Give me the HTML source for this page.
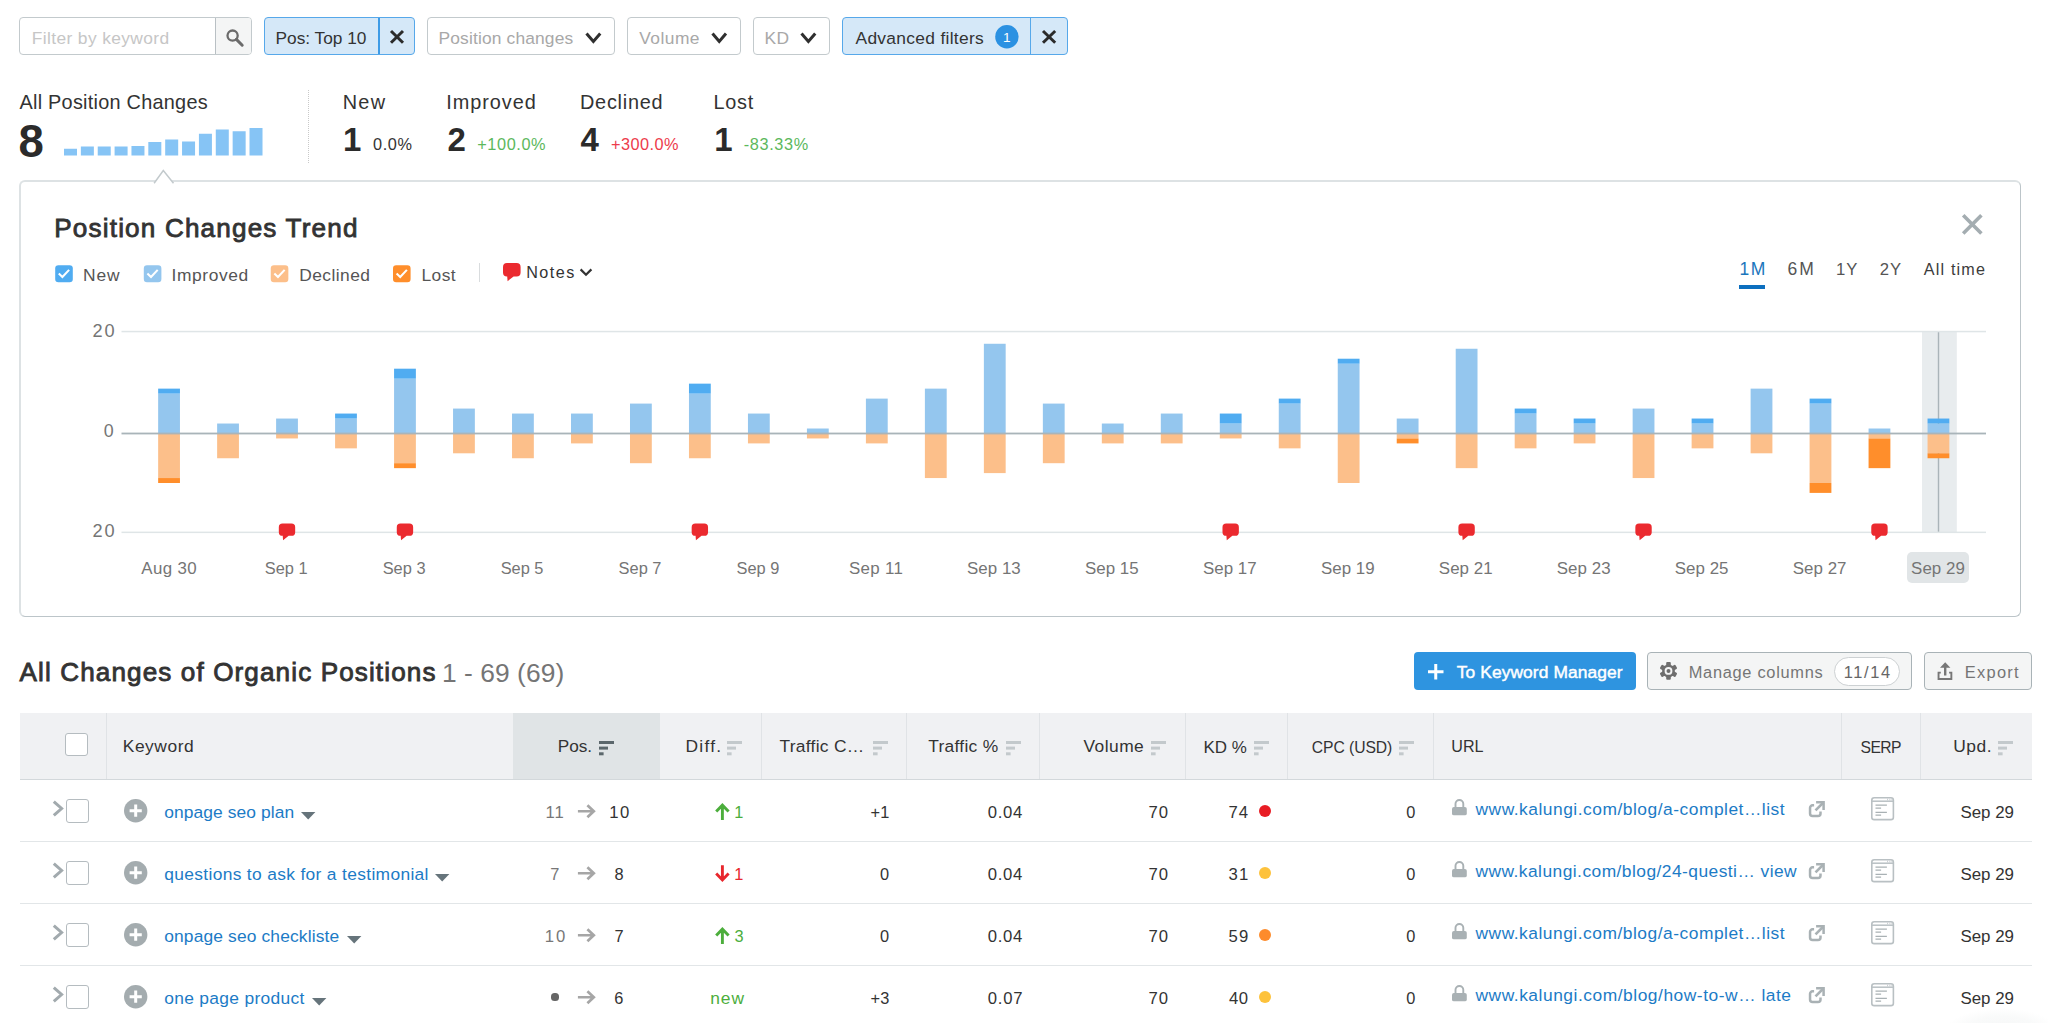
<!DOCTYPE html>
<html lang="en"><head><meta charset="utf-8"><title>Position Changes</title><style>
html,body{margin:0;padding:0;background:#fff;}
body{width:2048px;height:1023px;overflow:hidden;position:relative;font-family:"Liberation Sans",sans-serif;}
#page{position:absolute;left:0;top:0;width:2048px;height:1023px;overflow:hidden;background:#fff;}
#page div,#page svg,#page .t{position:absolute;box-sizing:border-box;}
#page svg{overflow:visible;display:block;}
.t{display:block;height:0;line-height:0;white-space:pre;font-family:"Liberation Sans",sans-serif;}
</style></head>
<body><div id="page">
<div style="left:19px;top:17px;width:233px;height:38px;border:1px solid #c3cacd;border-radius:4px;background:#fff;"></div>
<div style="left:215px;top:18px;width:36px;height:36px;background:#f4f5f5;border-left:1px solid #b9c0c4;border-radius:0 3px 3px 0;"></div>
<span class="t" style="left:31.75px;top:38px;font-size:17.4px;color:#c6c6c6;letter-spacing:0.375px;">Filter by keyword</span>
<svg style="left:224.8px;top:28px;" width="20" height="20" viewBox="0 0 20 20"><circle cx="7.6" cy="7.6" r="5.1" fill="none" stroke="#6b6b6b" stroke-width="2.3"/><path d="M11.4 11.4 L17.2 17.2" stroke="#6b6b6b" stroke-width="3" stroke-linecap="round"/></svg>
<div style="left:264px;top:17px;width:151px;height:38px;border:1px solid #56a8ea;border-radius:4px;background:#d5e8f8;"></div>
<div style="left:378px;top:18px;width:1.5px;height:36px;background:#3d9be6;"></div>
<span class="t" style="left:275.50px;top:38px;font-size:17.3px;color:#333;">Pos: Top 10</span>
<svg style="left:390px;top:30.2px;" width="14" height="13.8" viewBox="0 0 14 13.8"><path d="M1 1 L13 12.8 M13 1 L1 12.8" fill="none" stroke="#2b2b2b" stroke-width="3" stroke-linecap="butt"/></svg>
<div style="left:427px;top:17px;width:188px;height:38px;border:1px solid #c3cacd;border-radius:4px;background:#fff;"></div>
<span class="t" style="left:438.50px;top:38px;font-size:17.4px;color:#a8a8a8;letter-spacing:0.150px;">Position changes</span>
<svg style="left:585px;top:32px;" width="16.75" height="11" viewBox="0 0 16.75 11"><path d="M1.5 1.5 L8.375 9.5 L15.25 1.5" fill="none" stroke="#2f2f2f" stroke-width="3" stroke-linecap="butt" stroke-linejoin="miter"/></svg>
<div style="left:627px;top:17px;width:114px;height:38px;border:1px solid #c3cacd;border-radius:4px;background:#fff;"></div>
<span class="t" style="left:639.25px;top:38px;font-size:17.4px;color:#a8a8a8;letter-spacing:0.450px;">Volume</span>
<svg style="left:711px;top:32px;" width="16.5" height="11" viewBox="0 0 16.5 11"><path d="M1.5 1.5 L8.25 9.5 L15 1.5" fill="none" stroke="#2f2f2f" stroke-width="3" stroke-linecap="butt" stroke-linejoin="miter"/></svg>
<div style="left:753px;top:17px;width:77px;height:38px;border:1px solid #c3cacd;border-radius:4px;background:#fff;"></div>
<span class="t" style="left:764.50px;top:38px;font-size:17.4px;color:#a8a8a8;letter-spacing:0.500px;">KD</span>
<svg style="left:800px;top:32px;" width="16.75" height="11" viewBox="0 0 16.75 11"><path d="M1.5 1.5 L8.375 9.5 L15.25 1.5" fill="none" stroke="#2f2f2f" stroke-width="3" stroke-linecap="butt" stroke-linejoin="miter"/></svg>
<div style="left:842px;top:17px;width:226px;height:38px;border:1px solid #56a8ea;border-radius:4px;background:#d5e8f8;"></div>
<div style="left:1030px;top:18px;width:1.3px;height:36px;background:#56a8ea;"></div>
<span class="t" style="left:855.50px;top:38px;font-size:17.4px;color:#333;letter-spacing:0.300px;">Advanced filters</span>
<svg style="left:995px;top:25px;" width="24" height="24" viewBox="0 0 24 24"><circle cx="11.9" cy="11.8" r="11.7" fill="#2b91e2"/></svg>
<span class="t" style="left:1002.90px;top:38px;font-size:13.65px;color:#fff;">1</span>
<svg style="left:1042px;top:30.2px;" width="14.2" height="13.8" viewBox="0 0 14.2 13.8"><path d="M1 1 L13.2 12.8 M13.2 1 L1 12.8" fill="none" stroke="#2b2b2b" stroke-width="3" stroke-linecap="butt"/></svg>
<span class="t" style="left:19.50px;top:102px;font-size:19.89px;color:#333;letter-spacing:0.250px;">All Position Changes</span>
<span class="t" style="left:18.50px;top:142px;font-size:45.5px;color:#2b2b2b;font-weight:700;">8</span>
<svg style="left:64.25px;top:127px;" width="199" height="29" viewBox="0 0 199 29"><g fill="#86c4f5"><rect x="0.00" y="21.75" width="13" height="6.75"/><rect x="16.86" y="19.50" width="13" height="9.00"/><rect x="33.73" y="19.50" width="13" height="9.00"/><rect x="50.59" y="19.50" width="13" height="9.00"/><rect x="67.46" y="19.00" width="13" height="9.50"/><rect x="84.32" y="15.00" width="13" height="13.50"/><rect x="101.19" y="12.50" width="13" height="16.00"/><rect x="118.05" y="14.50" width="13" height="14.00"/><rect x="134.92" y="6.75" width="13" height="21.75"/><rect x="151.78" y="2.50" width="13" height="26.00"/><rect x="168.65" y="4.25" width="13" height="24.25"/><rect x="185.51" y="1.00" width="13" height="27.50"/></g></svg>
<div style="left:307.5px;top:90px;width:1px;height:73px;border-left:1px dotted #c9c9c9;"></div>
<span class="t" style="left:342.75px;top:102px;font-size:19.89px;color:#333;letter-spacing:1.250px;">New</span>
<span class="t" style="left:343.00px;top:140px;font-size:33px;color:#2b2b2b;font-weight:700;">1</span>
<span class="t" style="left:373.00px;top:144px;font-size:16.31px;color:#333;letter-spacing:0.583px;">0.0%</span>
<span class="t" style="left:446.25px;top:102px;font-size:19.89px;color:#333;letter-spacing:0.964px;">Improved</span>
<span class="t" style="left:447.50px;top:140px;font-size:33px;color:#2b2b2b;font-weight:700;">2</span>
<span class="t" style="left:477.25px;top:144px;font-size:16.31px;color:#5cb85c;letter-spacing:0.583px;">+100.0%</span>
<span class="t" style="left:580.00px;top:102px;font-size:19.89px;color:#333;letter-spacing:0.750px;">Declined</span>
<span class="t" style="left:580.50px;top:140px;font-size:33px;color:#2b2b2b;font-weight:700;">4</span>
<span class="t" style="left:611.00px;top:144px;font-size:16.31px;color:#ed3b4b;letter-spacing:0.458px;">+300.0%</span>
<span class="t" style="left:713.50px;top:102px;font-size:19.89px;color:#333;letter-spacing:0.750px;">Lost</span>
<span class="t" style="left:714.25px;top:140px;font-size:33px;color:#2b2b2b;font-weight:700;">1</span>
<span class="t" style="left:743.75px;top:144px;font-size:16.31px;color:#5cb85c;letter-spacing:0.625px;">-83.33%</span>
<div style="left:19px;top:180px;width:2002px;height:437px;border:2px solid #dde2e4;border-right:1px solid #bcc5c9;border-bottom:1px solid #bcc5c9;border-radius:6px;background:#fff;"></div>
<svg style="left:152px;top:168px;" width="24" height="16" viewBox="0 0 24 16"><path d="M2.3 15 L11.3 2.6 L21.3 15 Z" fill="#fff"/><path d="M2.1 15.3 L11.3 2.6 L21.5 15.3" fill="none" stroke="#c3cacd" stroke-width="1.5"/></svg>
<span class="t" style="left:54.25px;top:228px;font-size:26.11px;color:#333;letter-spacing:1.167px;-webkit-text-stroke:0.85px #333;">Position Changes Trend</span>
<svg style="left:1961px;top:213px;" width="22" height="22" viewBox="0 0 22 22"><path d="M2.2 2.2 L20.4 20.4 M20.4 2.2 L2.2 20.4" stroke="#a4adb1" stroke-width="3.6" fill="none"/></svg>
<svg style="left:55px;top:265px;" width="19" height="19" viewBox="0 0 19 19"><g transform="translate(0.20 0.30)"><rect x="0" y="0" width="17.6" height="17" rx="3.2" fill="#50acf1"/><path d="M3.6 8.3 L7.2 11.7 L13.9 4.6" fill="none" stroke="#fff" stroke-width="2.1"/></g></svg>
<span class="t" style="left:83.00px;top:275px;font-size:17.4px;color:#555;letter-spacing:0.875px;">New</span>
<svg style="left:143px;top:265px;" width="19" height="19" viewBox="0 0 19 19"><g transform="translate(0.80 0.30)"><rect x="0" y="0" width="17.6" height="17" rx="3.2" fill="#94c6ee"/><path d="M3.6 8.3 L7.2 11.7 L13.9 4.6" fill="none" stroke="#fff" stroke-width="2.1"/></g></svg>
<span class="t" style="left:171.50px;top:275px;font-size:17.4px;color:#555;letter-spacing:0.607px;">Improved</span>
<svg style="left:270px;top:265px;" width="19" height="19" viewBox="0 0 19 19"><g transform="translate(0.75 0.30)"><rect x="0" y="0" width="17.6" height="17" rx="3.2" fill="#fcbf8a"/><path d="M3.6 8.3 L7.2 11.7 L13.9 4.6" fill="none" stroke="#fff" stroke-width="2.1"/></g></svg>
<span class="t" style="left:299.25px;top:275px;font-size:17.4px;color:#555;letter-spacing:0.429px;">Declined</span>
<svg style="left:393px;top:265px;" width="19" height="19" viewBox="0 0 19 19"><g transform="translate(0.00 0.30)"><rect x="0" y="0" width="17.6" height="17" rx="3.2" fill="#ff8e2b"/><path d="M3.6 8.3 L7.2 11.7 L13.9 4.6" fill="none" stroke="#fff" stroke-width="2.1"/></g></svg>
<span class="t" style="left:421.50px;top:275px;font-size:17.4px;color:#555;letter-spacing:0.417px;">Lost</span>
<div style="left:479px;top:263px;width:1px;height:18.5px;background:#d9dcde;"></div>
<svg style="left:503.4px;top:262.9px;" width="17.6" height="17.4" viewBox="0 0 17.6 17.4"><path d="M4 0 H13.6 A4 4 0 0 1 17.6 4 V9.4 A4 4 0 0 1 13.6 13.4 H10.6 L4.6 18.2 L4.2 13.4 H4 A4 4 0 0 1 0 9.4 V4 A4 4 0 0 1 4 0 Z" fill="#eb2a2f"/></svg>
<span class="t" style="left:526.25px;top:272px;font-size:16.16px;color:#333;letter-spacing:1.438px;">Notes</span>
<svg style="left:579px;top:268px;" width="14" height="10" viewBox="0 0 14 10"><path d="M1.6 1.4 L7 6.8 L12.4 1.4" fill="none" stroke="#333" stroke-width="2.2"/></svg>
<span class="t" style="left:1739.55px;top:269px;font-size:17.5px;color:#1a76bc;letter-spacing:1.450px;">1M</span>
<div style="left:1739.4px;top:285.2px;width:25.4px;height:3.5px;background:#0d6fbf;"></div>
<span class="t" style="left:1787.50px;top:269px;font-size:17.5px;color:#555;letter-spacing:2.100px;">6M</span>
<span class="t" style="left:1835.95px;top:270px;font-size:16.71px;color:#555;letter-spacing:1.050px;">1Y</span>
<span class="t" style="left:1879.75px;top:270px;font-size:16.71px;color:#555;letter-spacing:0.950px;">2Y</span>
<span class="t" style="left:1923.70px;top:269px;font-size:16.16px;color:#3c3c3c;letter-spacing:1.193px;">All time</span>
<svg style="left:80px;top:320px;" width="1920" height="230" viewBox="80 320 1920 230"><rect x="1922" y="331.8" width="34.8" height="200.4" fill="#e8ecee"/><rect x="1937.8" y="331.8" width="1.4" height="200.4" fill="#aab4b9"/><rect x="121.5" y="330.8" width="1864.5" height="1.5" fill="#dfe5e7"/><rect x="121.5" y="531.6" width="1864.5" height="1.5" fill="#dfe5e7"/><rect x="158.15" y="393.62" width="21.8" height="39.88" fill="#94c6ee"/><rect x="158.15" y="388.63" width="21.8" height="4.99" fill="#50acf1"/><rect x="158.15" y="433.50" width="21.8" height="44.55" fill="#fcbf8a"/><rect x="158.15" y="478.05" width="21.8" height="4.95" fill="#ff8e2b"/><rect x="217.13" y="423.53" width="21.8" height="9.97" fill="#94c6ee"/><rect x="217.13" y="433.50" width="21.8" height="24.75" fill="#fcbf8a"/><rect x="276.11" y="418.55" width="21.8" height="14.96" fill="#94c6ee"/><rect x="276.11" y="433.50" width="21.8" height="4.95" fill="#fcbf8a"/><rect x="335.09" y="418.55" width="21.8" height="14.96" fill="#94c6ee"/><rect x="335.09" y="413.56" width="21.8" height="4.99" fill="#50acf1"/><rect x="335.09" y="433.50" width="21.8" height="14.85" fill="#fcbf8a"/><rect x="394.07" y="378.67" width="21.8" height="54.84" fill="#94c6ee"/><rect x="394.07" y="368.69" width="21.8" height="9.97" fill="#50acf1"/><rect x="394.07" y="433.50" width="21.8" height="29.70" fill="#fcbf8a"/><rect x="394.07" y="463.20" width="21.8" height="4.95" fill="#ff8e2b"/><rect x="453.05" y="408.57" width="21.8" height="24.93" fill="#94c6ee"/><rect x="453.05" y="433.50" width="21.8" height="19.80" fill="#fcbf8a"/><rect x="512.03" y="413.56" width="21.8" height="19.94" fill="#94c6ee"/><rect x="512.03" y="433.50" width="21.8" height="24.75" fill="#fcbf8a"/><rect x="571.01" y="413.56" width="21.8" height="19.94" fill="#94c6ee"/><rect x="571.01" y="433.50" width="21.8" height="9.90" fill="#fcbf8a"/><rect x="629.99" y="403.59" width="21.8" height="29.91" fill="#94c6ee"/><rect x="629.99" y="433.50" width="21.8" height="29.70" fill="#fcbf8a"/><rect x="688.97" y="393.62" width="21.8" height="39.88" fill="#94c6ee"/><rect x="688.97" y="383.65" width="21.8" height="9.97" fill="#50acf1"/><rect x="688.97" y="433.50" width="21.8" height="24.75" fill="#fcbf8a"/><rect x="747.95" y="413.56" width="21.8" height="19.94" fill="#94c6ee"/><rect x="747.95" y="433.50" width="21.8" height="9.90" fill="#fcbf8a"/><rect x="806.93" y="428.51" width="21.8" height="4.99" fill="#94c6ee"/><rect x="806.93" y="433.50" width="21.8" height="4.95" fill="#fcbf8a"/><rect x="865.91" y="398.61" width="21.8" height="34.90" fill="#94c6ee"/><rect x="865.91" y="433.50" width="21.8" height="9.90" fill="#fcbf8a"/><rect x="924.89" y="388.63" width="21.8" height="44.87" fill="#94c6ee"/><rect x="924.89" y="433.50" width="21.8" height="44.55" fill="#fcbf8a"/><rect x="983.87" y="343.77" width="21.8" height="89.73" fill="#94c6ee"/><rect x="983.87" y="433.50" width="21.8" height="39.60" fill="#fcbf8a"/><rect x="1042.85" y="403.59" width="21.8" height="29.91" fill="#94c6ee"/><rect x="1042.85" y="433.50" width="21.8" height="29.70" fill="#fcbf8a"/><rect x="1101.83" y="423.53" width="21.8" height="9.97" fill="#94c6ee"/><rect x="1101.83" y="433.50" width="21.8" height="9.90" fill="#fcbf8a"/><rect x="1160.81" y="413.56" width="21.8" height="19.94" fill="#94c6ee"/><rect x="1160.81" y="433.50" width="21.8" height="9.90" fill="#fcbf8a"/><rect x="1219.79" y="423.53" width="21.8" height="9.97" fill="#94c6ee"/><rect x="1219.79" y="413.56" width="21.8" height="9.97" fill="#50acf1"/><rect x="1219.79" y="433.50" width="21.8" height="4.95" fill="#fcbf8a"/><rect x="1278.77" y="403.59" width="21.8" height="29.91" fill="#94c6ee"/><rect x="1278.77" y="398.60" width="21.8" height="4.99" fill="#50acf1"/><rect x="1278.77" y="433.50" width="21.8" height="14.85" fill="#fcbf8a"/><rect x="1337.75" y="363.71" width="21.8" height="69.79" fill="#94c6ee"/><rect x="1337.75" y="358.72" width="21.8" height="4.99" fill="#50acf1"/><rect x="1337.75" y="433.50" width="21.8" height="49.50" fill="#fcbf8a"/><rect x="1396.73" y="418.55" width="21.8" height="14.96" fill="#94c6ee"/><rect x="1396.73" y="433.50" width="21.8" height="4.95" fill="#fcbf8a"/><rect x="1396.73" y="438.45" width="21.8" height="4.95" fill="#ff8e2b"/><rect x="1455.71" y="348.75" width="21.8" height="84.75" fill="#94c6ee"/><rect x="1455.71" y="433.50" width="21.8" height="34.65" fill="#fcbf8a"/><rect x="1514.69" y="413.56" width="21.8" height="19.94" fill="#94c6ee"/><rect x="1514.69" y="408.57" width="21.8" height="4.99" fill="#50acf1"/><rect x="1514.69" y="433.50" width="21.8" height="14.85" fill="#fcbf8a"/><rect x="1573.67" y="423.53" width="21.8" height="9.97" fill="#94c6ee"/><rect x="1573.67" y="418.54" width="21.8" height="4.99" fill="#50acf1"/><rect x="1573.67" y="433.50" width="21.8" height="9.90" fill="#fcbf8a"/><rect x="1632.65" y="408.57" width="21.8" height="24.93" fill="#94c6ee"/><rect x="1632.65" y="433.50" width="21.8" height="44.55" fill="#fcbf8a"/><rect x="1691.63" y="423.53" width="21.8" height="9.97" fill="#94c6ee"/><rect x="1691.63" y="418.54" width="21.8" height="4.99" fill="#50acf1"/><rect x="1691.63" y="433.50" width="21.8" height="14.85" fill="#fcbf8a"/><rect x="1750.61" y="388.63" width="21.8" height="44.87" fill="#94c6ee"/><rect x="1750.61" y="433.50" width="21.8" height="19.80" fill="#fcbf8a"/><rect x="1809.59" y="403.59" width="21.8" height="29.91" fill="#94c6ee"/><rect x="1809.59" y="398.60" width="21.8" height="4.99" fill="#50acf1"/><rect x="1809.59" y="433.50" width="21.8" height="49.50" fill="#fcbf8a"/><rect x="1809.59" y="483.00" width="21.8" height="9.90" fill="#ff8e2b"/><rect x="1868.57" y="428.51" width="21.8" height="4.99" fill="#94c6ee"/><rect x="1868.57" y="433.50" width="21.8" height="4.95" fill="#fcbf8a"/><rect x="1868.57" y="438.45" width="21.8" height="29.70" fill="#ff8e2b"/><rect x="1927.55" y="423.53" width="21.8" height="9.97" fill="#94c6ee"/><rect x="1927.55" y="418.54" width="21.8" height="4.99" fill="#50acf1"/><rect x="1927.55" y="433.50" width="21.8" height="19.80" fill="#fcbf8a"/><rect x="1927.55" y="453.30" width="21.8" height="4.95" fill="#ff8e2b"/><rect x="121.5" y="432.6" width="1864.5" height="1.8" fill="#a9b4b9"/><g transform="translate(278.81 523.6) scale(0.93 0.915)"><path d="M4 0 H13.6 A4 4 0 0 1 17.6 4 V9.4 A4 4 0 0 1 13.6 13.4 H10.6 L4.6 18.2 L4.2 13.4 H4 A4 4 0 0 1 0 9.4 V4 A4 4 0 0 1 4 0 Z" fill="#eb2a2f"/></g><g transform="translate(396.77 523.6) scale(0.93 0.915)"><path d="M4 0 H13.6 A4 4 0 0 1 17.6 4 V9.4 A4 4 0 0 1 13.6 13.4 H10.6 L4.6 18.2 L4.2 13.4 H4 A4 4 0 0 1 0 9.4 V4 A4 4 0 0 1 4 0 Z" fill="#eb2a2f"/></g><g transform="translate(691.67 523.6) scale(0.93 0.915)"><path d="M4 0 H13.6 A4 4 0 0 1 17.6 4 V9.4 A4 4 0 0 1 13.6 13.4 H10.6 L4.6 18.2 L4.2 13.4 H4 A4 4 0 0 1 0 9.4 V4 A4 4 0 0 1 4 0 Z" fill="#eb2a2f"/></g><g transform="translate(1222.49 523.6) scale(0.93 0.915)"><path d="M4 0 H13.6 A4 4 0 0 1 17.6 4 V9.4 A4 4 0 0 1 13.6 13.4 H10.6 L4.6 18.2 L4.2 13.4 H4 A4 4 0 0 1 0 9.4 V4 A4 4 0 0 1 4 0 Z" fill="#eb2a2f"/></g><g transform="translate(1458.41 523.6) scale(0.93 0.915)"><path d="M4 0 H13.6 A4 4 0 0 1 17.6 4 V9.4 A4 4 0 0 1 13.6 13.4 H10.6 L4.6 18.2 L4.2 13.4 H4 A4 4 0 0 1 0 9.4 V4 A4 4 0 0 1 4 0 Z" fill="#eb2a2f"/></g><g transform="translate(1635.35 523.6) scale(0.93 0.915)"><path d="M4 0 H13.6 A4 4 0 0 1 17.6 4 V9.4 A4 4 0 0 1 13.6 13.4 H10.6 L4.6 18.2 L4.2 13.4 H4 A4 4 0 0 1 0 9.4 V4 A4 4 0 0 1 4 0 Z" fill="#eb2a2f"/></g><g transform="translate(1871.27 523.6) scale(0.93 0.915)"><path d="M4 0 H13.6 A4 4 0 0 1 17.6 4 V9.4 A4 4 0 0 1 13.6 13.4 H10.6 L4.6 18.2 L4.2 13.4 H4 A4 4 0 0 1 0 9.4 V4 A4 4 0 0 1 4 0 Z" fill="#eb2a2f"/></g></svg>
<span class="t" style="left:92.50px;top:331px;font-size:18.2px;color:#757575;letter-spacing:2.000px;">20</span>
<span class="t" style="left:103.65px;top:431px;font-size:17.84px;color:#757575;">0</span>
<span class="t" style="left:92.50px;top:531px;font-size:18.2px;color:#757575;letter-spacing:2.000px;">20</span>
<div style="left:1907px;top:552px;width:62px;height:31px;background:#e1e5e7;border-radius:5px;"></div>
<span class="t" style="left:141.30px;top:569px;font-size:16.9px;color:#757575;letter-spacing:0.350px;">Aug 30</span>
<span class="t" style="left:264.71px;top:568px;font-size:16.39px;color:#757575;letter-spacing:0.012px;">Sep 1</span>
<span class="t" style="left:382.67px;top:568px;font-size:16.39px;color:#757575;letter-spacing:0.012px;">Sep 3</span>
<span class="t" style="left:500.63px;top:568px;font-size:16.39px;color:#757575;letter-spacing:0.012px;">Sep 5</span>
<span class="t" style="left:618.59px;top:568px;font-size:16.39px;color:#757575;letter-spacing:0.012px;">Sep 7</span>
<span class="t" style="left:736.55px;top:568px;font-size:16.39px;color:#757575;letter-spacing:0.012px;">Sep 9</span>
<span class="t" style="left:849.06px;top:569px;font-size:16.9px;color:#757575;letter-spacing:0.290px;">Sep 11</span>
<span class="t" style="left:967.02px;top:569px;font-size:16.9px;color:#757575;letter-spacing:0.040px;">Sep 13</span>
<span class="t" style="left:1084.98px;top:569px;font-size:16.9px;color:#757575;letter-spacing:0.040px;">Sep 15</span>
<span class="t" style="left:1202.94px;top:569px;font-size:16.9px;color:#757575;letter-spacing:0.040px;">Sep 17</span>
<span class="t" style="left:1320.90px;top:569px;font-size:16.9px;color:#757575;letter-spacing:0.040px;">Sep 19</span>
<span class="t" style="left:1438.86px;top:569px;font-size:16.9px;color:#757575;letter-spacing:0.040px;">Sep 21</span>
<span class="t" style="left:1556.82px;top:569px;font-size:16.9px;color:#757575;letter-spacing:0.040px;">Sep 23</span>
<span class="t" style="left:1674.78px;top:569px;font-size:16.9px;color:#757575;letter-spacing:0.040px;">Sep 25</span>
<span class="t" style="left:1792.74px;top:569px;font-size:16.9px;color:#757575;letter-spacing:0.040px;">Sep 27</span>
<span class="t" style="left:1911.10px;top:569px;font-size:16.9px;color:#757575;letter-spacing:0.040px;">Sep 29</span>
<span class="t" style="left:19.50px;top:672px;font-size:26.11px;color:#333;letter-spacing:1.105px;-webkit-text-stroke:0.85px #333;">All Changes of Organic Positions</span>
<span class="t" style="left:441.90px;top:673px;font-size:26.36px;color:#757575;letter-spacing:0.070px;">1 - 69 (69)</span>
<div style="left:1414px;top:652px;width:222px;height:38px;background:#2e94e0;border-radius:4px;"></div>
<svg style="left:1428px;top:664px;" width="15.5" height="15.5" viewBox="0 0 15.5 15.5"><path d="M7.75 0 V15.5 M0 7.75 H15.5" stroke="#fff" stroke-width="3" fill="none"/></svg>
<span class="t" style="left:1456.75px;top:672px;font-size:17.4px;color:#fff;letter-spacing:0.088px;-webkit-text-stroke:0.45px #fff;">To Keyword Manager</span>
<div style="left:1647px;top:652px;width:265px;height:38px;background:#f4f5f5;border:1px solid #a9b3b7;border-radius:4px;"></div>
<svg style="left:1660.3px;top:662.2px;" width="17" height="17.8" viewBox="0 0 17 17.8"><g transform="translate(8.5 8.9)" fill="#6e6e6e"><rect x="-2.3" y="-8.9" width="4.6" height="5" rx="1" transform="rotate(0)"/><rect x="-2.3" y="-8.9" width="4.6" height="5" rx="1" transform="rotate(60)"/><rect x="-2.3" y="-8.9" width="4.6" height="5" rx="1" transform="rotate(120)"/><rect x="-2.3" y="-8.9" width="4.6" height="5" rx="1" transform="rotate(180)"/><rect x="-2.3" y="-8.9" width="4.6" height="5" rx="1" transform="rotate(240)"/><rect x="-2.3" y="-8.9" width="4.6" height="5" rx="1" transform="rotate(300)"/><circle r="6.4"/></g><circle cx="8.5" cy="8.9" r="3.9" fill="#f4f5f5"/><circle cx="8.5" cy="8.9" r="2" fill="#6e6e6e"/></svg>
<span class="t" style="left:1688.75px;top:672px;font-size:16.41px;color:#757575;letter-spacing:0.692px;">Manage columns</span>
<div style="left:1834px;top:657px;width:66px;height:29px;background:#fff;border:1px solid #cdd1d3;border-radius:15px;"></div>
<span class="t" style="left:1843.75px;top:672px;font-size:16.41px;color:#666;letter-spacing:1.625px;">11/14</span>
<div style="left:1924px;top:652px;width:107.5px;height:38px;background:#f4f5f5;border:1px solid #a9b3b7;border-radius:4px;"></div>
<svg style="left:1937px;top:662px;" width="16" height="18.5" viewBox="0 0 16 18.5"><path d="M8.2 0.3 L13.4 5.7 H9.4 V13.5 H7 V5.7 H3 Z" fill="#777"/><path d="M3.8 10.65 H1.55 V16.95 H14.35 V10.65 H12.1" fill="none" stroke="#777" stroke-width="1.9"/></svg>
<span class="t" style="left:1964.85px;top:672px;font-size:16.41px;color:#757575;letter-spacing:1.280px;">Export</span>
<div style="left:19.5px;top:713px;width:2012px;height:66px;background:#f0f1f3;"></div>
<div style="left:513px;top:713px;width:147px;height:66px;background:#e0e4e6;"></div>
<div style="left:19.5px;top:779px;width:2012px;height:1.2px;background:#d3d8db;"></div>
<div style="left:106px;top:713px;width:1px;height:66px;background:#e0e3e6;"></div>
<div style="left:761px;top:713px;width:1px;height:66px;background:#e0e3e6;"></div>
<div style="left:906px;top:713px;width:1px;height:66px;background:#e0e3e6;"></div>
<div style="left:1039px;top:713px;width:1px;height:66px;background:#e0e3e6;"></div>
<div style="left:1185px;top:713px;width:1px;height:66px;background:#e0e3e6;"></div>
<div style="left:1287px;top:713px;width:1px;height:66px;background:#e0e3e6;"></div>
<div style="left:1433px;top:713px;width:1px;height:66px;background:#e0e3e6;"></div>
<div style="left:1841px;top:713px;width:1px;height:66px;background:#e0e3e6;"></div>
<div style="left:1920px;top:713px;width:1px;height:66px;background:#e0e3e6;"></div>
<div style="left:65px;top:732.5px;width:23.3px;height:23.3px;background:#fff;border:1px solid #b5bcc0;border-radius:3px;"></div>
<span class="t" style="left:122.75px;top:746px;font-size:17.4px;color:#333;letter-spacing:0.542px;">Keyword</span>
<span class="t" style="left:557.75px;top:746px;font-size:17.2px;color:#333;">Pos.</span>
<span class="t" style="left:685.50px;top:746px;font-size:17.4px;color:#333;letter-spacing:1.250px;">Diff.</span>
<span class="t" style="left:779.50px;top:746px;font-size:17.4px;color:#333;letter-spacing:0.278px;">Traffic C…</span>
<span class="t" style="left:928.25px;top:746px;font-size:17.4px;color:#333;letter-spacing:0.281px;">Traffic %</span>
<span class="t" style="left:1083.50px;top:746px;font-size:17.4px;color:#333;letter-spacing:0.450px;">Volume</span>
<span class="t" style="left:1203.50px;top:748px;font-size:16.96px;color:#333;">KD %</span>
<span class="t" style="left:1311.75px;top:748px;font-size:15.7px;color:#333;letter-spacing:-0.062px;">CPC (USD)</span>
<span class="t" style="left:1451.25px;top:746px;font-size:16.13px;color:#333;">URL</span>
<span class="t" style="left:1860.50px;top:748px;font-size:15.7px;color:#333;letter-spacing:-0.583px;">SERP</span>
<span class="t" style="left:1953.15px;top:746px;font-size:17.4px;color:#333;letter-spacing:0.567px;">Upd.</span>
<svg style="left:598.75px;top:740.75px;" width="15" height="14.5" viewBox="0 0 15 14.5"><g fill="#5b676c"><rect x="0" y="0" width="15" height="3"/><rect x="0" y="5.6" width="9" height="3"/><rect x="0" y="11.3" width="4.6" height="3"/></g></svg>
<svg style="left:726.75px;top:740.75px;" width="15" height="14.5" viewBox="0 0 15 14.5"><g fill="#c3c9cc"><rect x="0" y="0" width="15" height="3"/><rect x="0" y="5.6" width="9" height="3"/><rect x="0" y="11.3" width="4.6" height="3"/></g></svg>
<svg style="left:872.5px;top:740.75px;" width="15" height="14.5" viewBox="0 0 15 14.5"><g fill="#c3c9cc"><rect x="0" y="0" width="15" height="3"/><rect x="0" y="5.6" width="9" height="3"/><rect x="0" y="11.3" width="4.6" height="3"/></g></svg>
<svg style="left:1005.5px;top:740.75px;" width="15" height="14.5" viewBox="0 0 15 14.5"><g fill="#c3c9cc"><rect x="0" y="0" width="15" height="3"/><rect x="0" y="5.6" width="9" height="3"/><rect x="0" y="11.3" width="4.6" height="3"/></g></svg>
<svg style="left:1150.75px;top:740.75px;" width="15" height="14.5" viewBox="0 0 15 14.5"><g fill="#c3c9cc"><rect x="0" y="0" width="15" height="3"/><rect x="0" y="5.6" width="9" height="3"/><rect x="0" y="11.3" width="4.6" height="3"/></g></svg>
<svg style="left:1253.75px;top:740.75px;" width="15" height="14.5" viewBox="0 0 15 14.5"><g fill="#c3c9cc"><rect x="0" y="0" width="15" height="3"/><rect x="0" y="5.6" width="9" height="3"/><rect x="0" y="11.3" width="4.6" height="3"/></g></svg>
<svg style="left:1399.25px;top:740.75px;" width="15" height="14.5" viewBox="0 0 15 14.5"><g fill="#c3c9cc"><rect x="0" y="0" width="15" height="3"/><rect x="0" y="5.6" width="9" height="3"/><rect x="0" y="11.3" width="4.6" height="3"/></g></svg>
<svg style="left:1997.6px;top:740.75px;" width="15" height="14.5" viewBox="0 0 15 14.5"><g fill="#c3c9cc"><rect x="0" y="0" width="15" height="3"/><rect x="0" y="5.6" width="9" height="3"/><rect x="0" y="11.3" width="4.6" height="3"/></g></svg>
<div style="left:1945px;top:1008px;width:103px;height:42px;background:radial-gradient(ellipse at 55% 55%, #f6f7f7 0%, #f9fafa 45%, rgba(255,255,255,0) 70%);"></div>
<div style="left:19.5px;top:841px;width:2012px;height:1.2px;background:#e2e6e8;"></div>
<svg style="left:52px;top:800px;" width="12" height="17" viewBox="0 0 12 17"><path d="M1.8 1.6 L9.6 8.5 L1.8 15.4" fill="none" stroke="#a2aaae" stroke-width="3"/></svg>
<div style="left:66px;top:799px;width:23px;height:24px;background:#fff;border:1px solid #b5bcc0;border-radius:3px;"></div>
<svg style="left:124.2px;top:799.3px;" width="23.4" height="23.4" viewBox="0 0 23.4 23.4"><circle cx="11.7" cy="11.7" r="11.7" fill="#a4acaf"/><path d="M11.7 5.6 V17.8 M5.6 11.7 H17.8" stroke="#fff" stroke-width="3" fill="none"/></svg>
<span class="t" style="left:164.25px;top:812px;font-size:17.4px;color:#1c7bc6;letter-spacing:0.089px;">onpage seo plan</span>
<svg style="left:301.2px;top:812px;" width="14.4" height="7.4" viewBox="0 0 14.4 7.4"><path d="M0 0 H14.4 L7.2 7.4 Z" fill="#66747b"/></svg>
<span class="t" style="left:545.50px;top:813px;font-size:16.71px;color:#777;letter-spacing:1.000px;">11</span>
<svg style="left:577px;top:803.7px;" width="19" height="14.5" viewBox="0 0 19 14.5"><path d="M0.9 7.25 H16.5 M10.4 1.2 L16.8 7.25 L10.4 13.3" fill="none" stroke="#a6a6a6" stroke-width="2.7"/></svg>
<span class="t" style="left:609.25px;top:813px;font-size:16.71px;color:#333;letter-spacing:1.500px;">10</span>
<svg style="left:715.3px;top:802.5px;" width="14.8" height="17.2" viewBox="0 0 14.8 17.2"><path d="M7.4 17 V2.6 M1.2 8.6 L7.4 2.2 L13.6 8.6" fill="none" stroke="#4cae3c" stroke-width="2.9"/></svg>
<span class="t" style="left:734.25px;top:812px;font-size:16.38px;color:#4cae3c;">1</span>
<span class="t" style="left:870.60px;top:812px;font-size:16.38px;color:#333;">+1</span>
<span class="t" style="left:987.85px;top:813px;font-size:16.71px;color:#333;letter-spacing:0.650px;">0.04</span>
<span class="t" style="left:1148.50px;top:813px;font-size:16.71px;color:#333;letter-spacing:1.000px;">70</span>
<span class="t" style="left:1228.50px;top:813px;font-size:16.71px;color:#333;letter-spacing:1.000px;">74</span>
<div style="left:1259.2px;top:805.2px;width:12.1px;height:12.1px;background:#e81c24;border-radius:50%;"></div>
<span class="t" style="left:1406.25px;top:812px;font-size:16.38px;color:#333;">0</span>
<svg style="left:1452.4px;top:799px;" width="14.8" height="16.4" viewBox="0 0 14.8 16.4"><path d="M3.5 8.6 V4.85 A3.9 3.9 0 0 1 11.3 4.85 V8.6" fill="none" stroke="#a9b1b4" stroke-width="1.9"/><rect x="0" y="8.1" width="14.8" height="8.2" rx="1.9" fill="#a9b1b4"/></svg>
<span class="t" style="left:1475.50px;top:809px;font-size:17.4px;color:#1c7bc6;letter-spacing:0.507px;">www.kalungi.com/blog/a-complet…list</span>
<svg style="left:1808px;top:800px;" width="18" height="18" viewBox="0 0 18 18"><path d="M6.1 5.35 H4.55 A2.5 2.5 0 0 0 2.05 7.85 V13.5 A2.5 2.5 0 0 0 4.55 16 H10 A2.5 2.5 0 0 0 12.5 13.5 V11.4" fill="none" stroke="#a9b1b4" stroke-width="2.5"/><path d="M8.1 2.3 H15.6 V9.9" fill="none" stroke="#a9b1b4" stroke-width="2.5" stroke-linejoin="miter"/><path d="M15.4 2.5 L7.5 10.4" stroke="#a9b1b4" stroke-width="2.6" fill="none"/></svg>
<svg style="left:1871px;top:797.25px;" width="23.2" height="23.4" viewBox="0 0 23.2 23.4"><rect x="0.8" y="0.8" width="21.6" height="21.8" rx="2.4" fill="#fff" stroke="#b9c0c3" stroke-width="1.6"/><path d="M0.8 4.2 H22.4" stroke="#b9c0c3" stroke-width="1.5"/><path d="M16.6 1.6 V3.4 M18.9 1.6 V3.4 M21 1.6 V3.4" stroke="#c4cacd" stroke-width="0.9"/><g stroke="#a9b1b4" stroke-width="1.25"><path d="M4.5 8.05 H15.9 M4.5 11.05 H10.1 M4.5 15.35 H15.9 M4.5 18.25 H10.1"/></g></svg>
<span class="t" style="left:1960.45px;top:813px;font-size:16.9px;color:#333;">Sep 29</span>
<div style="left:19.5px;top:903px;width:2012px;height:1.2px;background:#e2e6e8;"></div>
<svg style="left:52px;top:862px;" width="12" height="17" viewBox="0 0 12 17"><path d="M1.8 1.6 L9.6 8.5 L1.8 15.4" fill="none" stroke="#a2aaae" stroke-width="3"/></svg>
<div style="left:66px;top:861px;width:23px;height:24px;background:#fff;border:1px solid #b5bcc0;border-radius:3px;"></div>
<svg style="left:124.2px;top:861.3px;" width="23.4" height="23.4" viewBox="0 0 23.4 23.4"><circle cx="11.7" cy="11.7" r="11.7" fill="#a4acaf"/><path d="M11.7 5.6 V17.8 M5.6 11.7 H17.8" stroke="#fff" stroke-width="3" fill="none"/></svg>
<span class="t" style="left:164.25px;top:874px;font-size:17.4px;color:#1c7bc6;letter-spacing:0.332px;">questions to ask for a testimonial</span>
<svg style="left:435.4px;top:874px;" width="14.4" height="7.4" viewBox="0 0 14.4 7.4"><path d="M0 0 H14.4 L7.2 7.4 Z" fill="#66747b"/></svg>
<span class="t" style="left:550.25px;top:874px;font-size:16.38px;color:#777;">7</span>
<svg style="left:577px;top:865.7px;" width="19" height="14.5" viewBox="0 0 19 14.5"><path d="M0.9 7.25 H16.5 M10.4 1.2 L16.8 7.25 L10.4 13.3" fill="none" stroke="#a6a6a6" stroke-width="2.7"/></svg>
<span class="t" style="left:614.45px;top:874px;font-size:16.38px;color:#333;">8</span>
<svg style="left:715.3px;top:864.5px;" width="14.8" height="17.2" viewBox="0 0 14.8 17.2"><path d="M7.4 0.2 V14.6 M1.2 8.6 L7.4 15 L13.6 8.6" fill="none" stroke="#e8272d" stroke-width="2.9"/></svg>
<span class="t" style="left:734.25px;top:874px;font-size:16.38px;color:#e8272d;">1</span>
<span class="t" style="left:880.10px;top:874px;font-size:16.38px;color:#333;">0</span>
<span class="t" style="left:987.85px;top:875px;font-size:16.71px;color:#333;letter-spacing:0.650px;">0.04</span>
<span class="t" style="left:1148.50px;top:875px;font-size:16.71px;color:#333;letter-spacing:1.000px;">70</span>
<span class="t" style="left:1228.50px;top:875px;font-size:16.71px;color:#333;letter-spacing:1.250px;">31</span>
<div style="left:1259.2px;top:867.2px;width:12.1px;height:12.1px;background:#fdc23c;border-radius:50%;"></div>
<span class="t" style="left:1406.25px;top:874px;font-size:16.38px;color:#333;">0</span>
<svg style="left:1452.4px;top:861px;" width="14.8" height="16.4" viewBox="0 0 14.8 16.4"><path d="M3.5 8.6 V4.85 A3.9 3.9 0 0 1 11.3 4.85 V8.6" fill="none" stroke="#a9b1b4" stroke-width="1.9"/><rect x="0" y="8.1" width="14.8" height="8.2" rx="1.9" fill="#a9b1b4"/></svg>
<span class="t" style="left:1475.50px;top:871px;font-size:17.4px;color:#1c7bc6;letter-spacing:0.449px;">www.kalungi.com/blog/24-questi… view</span>
<svg style="left:1808px;top:862px;" width="18" height="18" viewBox="0 0 18 18"><path d="M6.1 5.35 H4.55 A2.5 2.5 0 0 0 2.05 7.85 V13.5 A2.5 2.5 0 0 0 4.55 16 H10 A2.5 2.5 0 0 0 12.5 13.5 V11.4" fill="none" stroke="#a9b1b4" stroke-width="2.5"/><path d="M8.1 2.3 H15.6 V9.9" fill="none" stroke="#a9b1b4" stroke-width="2.5" stroke-linejoin="miter"/><path d="M15.4 2.5 L7.5 10.4" stroke="#a9b1b4" stroke-width="2.6" fill="none"/></svg>
<svg style="left:1871px;top:859.25px;" width="23.2" height="23.4" viewBox="0 0 23.2 23.4"><rect x="0.8" y="0.8" width="21.6" height="21.8" rx="2.4" fill="#fff" stroke="#b9c0c3" stroke-width="1.6"/><path d="M0.8 4.2 H22.4" stroke="#b9c0c3" stroke-width="1.5"/><path d="M16.6 1.6 V3.4 M18.9 1.6 V3.4 M21 1.6 V3.4" stroke="#c4cacd" stroke-width="0.9"/><g stroke="#a9b1b4" stroke-width="1.25"><path d="M4.5 8.05 H15.9 M4.5 11.05 H10.1 M4.5 15.35 H15.9 M4.5 18.25 H10.1"/></g></svg>
<span class="t" style="left:1960.45px;top:875px;font-size:16.9px;color:#333;">Sep 29</span>
<div style="left:19.5px;top:965px;width:2012px;height:1.2px;background:#e2e6e8;"></div>
<svg style="left:52px;top:924px;" width="12" height="17" viewBox="0 0 12 17"><path d="M1.8 1.6 L9.6 8.5 L1.8 15.4" fill="none" stroke="#a2aaae" stroke-width="3"/></svg>
<div style="left:66px;top:923px;width:23px;height:24px;background:#fff;border:1px solid #b5bcc0;border-radius:3px;"></div>
<svg style="left:124.2px;top:923.3px;" width="23.4" height="23.4" viewBox="0 0 23.4 23.4"><circle cx="11.7" cy="11.7" r="11.7" fill="#a4acaf"/><path d="M11.7 5.6 V17.8 M5.6 11.7 H17.8" stroke="#fff" stroke-width="3" fill="none"/></svg>
<span class="t" style="left:164.25px;top:936px;font-size:17.4px;color:#1c7bc6;letter-spacing:0.140px;">onpage seo checkliste</span>
<svg style="left:346.5px;top:936px;" width="14.4" height="7.4" viewBox="0 0 14.4 7.4"><path d="M0 0 H14.4 L7.2 7.4 Z" fill="#66747b"/></svg>
<span class="t" style="left:544.75px;top:937px;font-size:16.71px;color:#777;letter-spacing:1.850px;">10</span>
<svg style="left:577px;top:927.7px;" width="19" height="14.5" viewBox="0 0 19 14.5"><path d="M0.9 7.25 H16.5 M10.4 1.2 L16.8 7.25 L10.4 13.3" fill="none" stroke="#a6a6a6" stroke-width="2.7"/></svg>
<span class="t" style="left:614.45px;top:936px;font-size:16.38px;color:#333;">7</span>
<svg style="left:715.3px;top:926.5px;" width="14.8" height="17.2" viewBox="0 0 14.8 17.2"><path d="M7.4 17 V2.6 M1.2 8.6 L7.4 2.2 L13.6 8.6" fill="none" stroke="#4cae3c" stroke-width="2.9"/></svg>
<span class="t" style="left:734.38px;top:936px;font-size:16.38px;color:#4cae3c;">3</span>
<span class="t" style="left:880.10px;top:936px;font-size:16.38px;color:#333;">0</span>
<span class="t" style="left:987.85px;top:937px;font-size:16.71px;color:#333;letter-spacing:0.650px;">0.04</span>
<span class="t" style="left:1148.50px;top:937px;font-size:16.71px;color:#333;letter-spacing:1.000px;">70</span>
<span class="t" style="left:1228.50px;top:937px;font-size:16.71px;color:#333;letter-spacing:1.250px;">59</span>
<div style="left:1259.2px;top:929.2px;width:12.1px;height:12.1px;background:#fd8b2c;border-radius:50%;"></div>
<span class="t" style="left:1406.25px;top:936px;font-size:16.38px;color:#333;">0</span>
<svg style="left:1452.4px;top:923px;" width="14.8" height="16.4" viewBox="0 0 14.8 16.4"><path d="M3.5 8.6 V4.85 A3.9 3.9 0 0 1 11.3 4.85 V8.6" fill="none" stroke="#a9b1b4" stroke-width="1.9"/><rect x="0" y="8.1" width="14.8" height="8.2" rx="1.9" fill="#a9b1b4"/></svg>
<span class="t" style="left:1475.50px;top:933px;font-size:17.4px;color:#1c7bc6;letter-spacing:0.507px;">www.kalungi.com/blog/a-complet…list</span>
<svg style="left:1808px;top:924px;" width="18" height="18" viewBox="0 0 18 18"><path d="M6.1 5.35 H4.55 A2.5 2.5 0 0 0 2.05 7.85 V13.5 A2.5 2.5 0 0 0 4.55 16 H10 A2.5 2.5 0 0 0 12.5 13.5 V11.4" fill="none" stroke="#a9b1b4" stroke-width="2.5"/><path d="M8.1 2.3 H15.6 V9.9" fill="none" stroke="#a9b1b4" stroke-width="2.5" stroke-linejoin="miter"/><path d="M15.4 2.5 L7.5 10.4" stroke="#a9b1b4" stroke-width="2.6" fill="none"/></svg>
<svg style="left:1871px;top:921.25px;" width="23.2" height="23.4" viewBox="0 0 23.2 23.4"><rect x="0.8" y="0.8" width="21.6" height="21.8" rx="2.4" fill="#fff" stroke="#b9c0c3" stroke-width="1.6"/><path d="M0.8 4.2 H22.4" stroke="#b9c0c3" stroke-width="1.5"/><path d="M16.6 1.6 V3.4 M18.9 1.6 V3.4 M21 1.6 V3.4" stroke="#c4cacd" stroke-width="0.9"/><g stroke="#a9b1b4" stroke-width="1.25"><path d="M4.5 8.05 H15.9 M4.5 11.05 H10.1 M4.5 15.35 H15.9 M4.5 18.25 H10.1"/></g></svg>
<span class="t" style="left:1960.45px;top:937px;font-size:16.9px;color:#333;">Sep 29</span>
<div style="left:19.5px;top:1027px;width:2012px;height:1.2px;background:#e2e6e8;"></div>
<svg style="left:52px;top:986px;" width="12" height="17" viewBox="0 0 12 17"><path d="M1.8 1.6 L9.6 8.5 L1.8 15.4" fill="none" stroke="#a2aaae" stroke-width="3"/></svg>
<div style="left:66px;top:985px;width:23px;height:24px;background:#fff;border:1px solid #b5bcc0;border-radius:3px;"></div>
<svg style="left:124.2px;top:985.3px;" width="23.4" height="23.4" viewBox="0 0 23.4 23.4"><circle cx="11.7" cy="11.7" r="11.7" fill="#a4acaf"/><path d="M11.7 5.6 V17.8 M5.6 11.7 H17.8" stroke="#fff" stroke-width="3" fill="none"/></svg>
<span class="t" style="left:164.25px;top:998px;font-size:17.4px;color:#1c7bc6;letter-spacing:0.313px;">one page product</span>
<svg style="left:312.4px;top:998px;" width="14.4" height="7.4" viewBox="0 0 14.4 7.4"><path d="M0 0 H14.4 L7.2 7.4 Z" fill="#66747b"/></svg>
<div style="left:551.4px;top:993.4px;width:7.2px;height:7.2px;background:#666;border-radius:50%;"></div>
<svg style="left:577px;top:989.7px;" width="19" height="14.5" viewBox="0 0 19 14.5"><path d="M0.9 7.25 H16.5 M10.4 1.2 L16.8 7.25 L10.4 13.3" fill="none" stroke="#a6a6a6" stroke-width="2.7"/></svg>
<span class="t" style="left:614.25px;top:998px;font-size:16.38px;color:#333;">6</span>
<span class="t" style="left:710.15px;top:998px;font-size:17.4px;color:#4cae3c;letter-spacing:1.000px;">new</span>
<span class="t" style="left:870.60px;top:998px;font-size:16.38px;color:#333;">+3</span>
<span class="t" style="left:987.85px;top:999px;font-size:16.71px;color:#333;letter-spacing:0.733px;">0.07</span>
<span class="t" style="left:1148.50px;top:999px;font-size:16.71px;color:#333;letter-spacing:1.000px;">70</span>
<span class="t" style="left:1229.00px;top:999px;font-size:16.71px;color:#333;letter-spacing:0.500px;">40</span>
<div style="left:1259.2px;top:991.2px;width:12.1px;height:12.1px;background:#fdc23c;border-radius:50%;"></div>
<span class="t" style="left:1406.25px;top:998px;font-size:16.38px;color:#333;">0</span>
<svg style="left:1452.4px;top:985px;" width="14.8" height="16.4" viewBox="0 0 14.8 16.4"><path d="M3.5 8.6 V4.85 A3.9 3.9 0 0 1 11.3 4.85 V8.6" fill="none" stroke="#a9b1b4" stroke-width="1.9"/><rect x="0" y="8.1" width="14.8" height="8.2" rx="1.9" fill="#a9b1b4"/></svg>
<span class="t" style="left:1475.50px;top:995px;font-size:17.4px;color:#1c7bc6;letter-spacing:0.524px;">www.kalungi.com/blog/how-to-w… late</span>
<svg style="left:1808px;top:986px;" width="18" height="18" viewBox="0 0 18 18"><path d="M6.1 5.35 H4.55 A2.5 2.5 0 0 0 2.05 7.85 V13.5 A2.5 2.5 0 0 0 4.55 16 H10 A2.5 2.5 0 0 0 12.5 13.5 V11.4" fill="none" stroke="#a9b1b4" stroke-width="2.5"/><path d="M8.1 2.3 H15.6 V9.9" fill="none" stroke="#a9b1b4" stroke-width="2.5" stroke-linejoin="miter"/><path d="M15.4 2.5 L7.5 10.4" stroke="#a9b1b4" stroke-width="2.6" fill="none"/></svg>
<svg style="left:1871px;top:983.25px;" width="23.2" height="23.4" viewBox="0 0 23.2 23.4"><rect x="0.8" y="0.8" width="21.6" height="21.8" rx="2.4" fill="#fff" stroke="#b9c0c3" stroke-width="1.6"/><path d="M0.8 4.2 H22.4" stroke="#b9c0c3" stroke-width="1.5"/><path d="M16.6 1.6 V3.4 M18.9 1.6 V3.4 M21 1.6 V3.4" stroke="#c4cacd" stroke-width="0.9"/><g stroke="#a9b1b4" stroke-width="1.25"><path d="M4.5 8.05 H15.9 M4.5 11.05 H10.1 M4.5 15.35 H15.9 M4.5 18.25 H10.1"/></g></svg>
<span class="t" style="left:1960.45px;top:999px;font-size:16.9px;color:#333;">Sep 29</span>
</div></body></html>
